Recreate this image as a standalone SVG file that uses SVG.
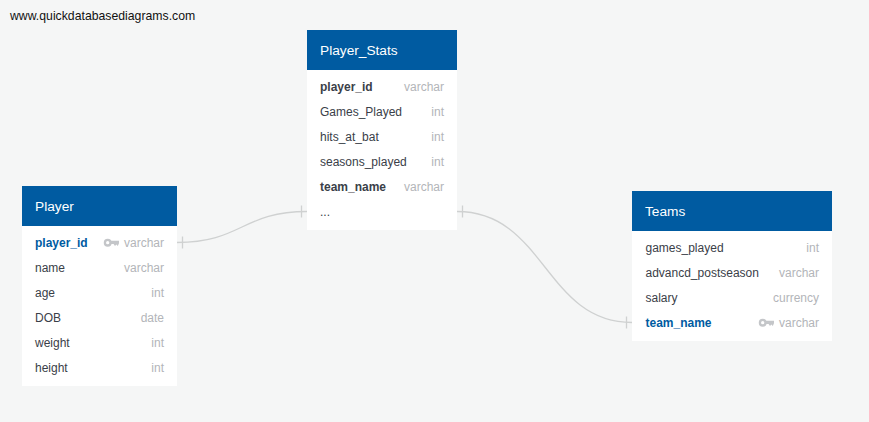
<svg xmlns="http://www.w3.org/2000/svg" width="869" height="422" viewBox="0 0 869 422">
<style>
text{font-family:"Liberation Sans",Arial,sans-serif;font-size:12px;fill:#3a4048}
.t{font-size:13.7px;fill:#fff}
.h{fill:#005ba1}
.b{fill:#fff}
.ty{fill:#b3b5b9;text-anchor:end}
.bd{font-weight:bold}
.k{fill:#005ba1;font-weight:bold}
.c{fill:none;stroke:#cfd1d1;stroke-width:1.3}
.kk{fill:#c4c6c9}
</style>
<defs>
<g id="key"><circle cx="3.700" cy="3.700" r="2.800" fill="none" stroke="#c4c6c9" stroke-width="2.300"/><path class="kk" d="M6 1.800H15V4.200L13.800 7 12.400 5.500 11 7 9.600 5H6Z"/></g>
</defs>
<rect width="869" height="422" fill="#f5f6f6"/>
<text x="10" y="20" style="font-size:12.26px;fill:#111">www.quickdatabasediagrams.com</text>
<g id="connectors">
<path class="c" d="M177 242.500C242 242.500 242 211.500 307 211.500"/>
<path class="c" d="M182.500 236.500V248.500M301.500 205.500V217.500"/>
<path class="c" d="M457 211.500C545 211.500 545 322.500 632 322.500"/>
<path class="c" d="M462.500 205.500V217.500M626.500 316.500V328.500"/>
</g>
<g id="Player">
<rect class="b" x="22" y="186" width="155" height="200"/><rect class="h" x="22" y="186" width="155" height="40"/>
<text class="t" x="35" y="211">Player</text>
<text class="k" x="35" y="247">player_id</text><use href="#key" x="104" y="239"/><text class="ty" x="164" y="247">varchar</text>
<text x="35" y="272">name</text><text class="ty" x="164" y="272">varchar</text>
<text x="35" y="297">age</text><text class="ty" x="164" y="297">int</text>
<text x="35" y="322">DOB</text><text class="ty" x="164" y="322">date</text>
<text x="35" y="347">weight</text><text class="ty" x="164" y="347">int</text>
<text x="35" y="372">height</text><text class="ty" x="164" y="372">int</text>
</g>
<g id="Player_Stats">
<rect class="b" x="307" y="30" width="150" height="200"/><rect class="h" x="307" y="30" width="150" height="40"/>
<text class="t" x="320" y="55">Player_Stats</text>
<text class="bd" x="320" y="91">player_id</text><text class="ty" x="444" y="91">varchar</text>
<text x="320" y="116">Games_Played</text><text class="ty" x="444" y="116">int</text>
<text x="320" y="141">hits_at_bat</text><text class="ty" x="444" y="141">int</text>
<text x="320" y="166">seasons_played</text><text class="ty" x="444" y="166">int</text>
<text class="bd" x="320" y="191">team_name</text><text class="ty" x="444" y="191">varchar</text>
<text x="320" y="216">...</text>
</g>
<g id="Teams">
<rect class="b" x="632" y="191" width="200" height="150"/><rect class="h" x="632" y="191" width="200" height="40"/>
<text class="t" x="645" y="216">Teams</text>
<text x="645.500" y="252">games_played</text><text class="ty" x="819" y="252">int</text>
<text x="645.500" y="277">advancd_postseason</text><text class="ty" x="819" y="277">varchar</text>
<text x="645.500" y="302">salary</text><text class="ty" x="819" y="302">currency</text>
<text class="k" x="645.500" y="327">team_name</text><use href="#key" x="759" y="319"/><text class="ty" x="819" y="327">varchar</text>
</g>
</svg>
